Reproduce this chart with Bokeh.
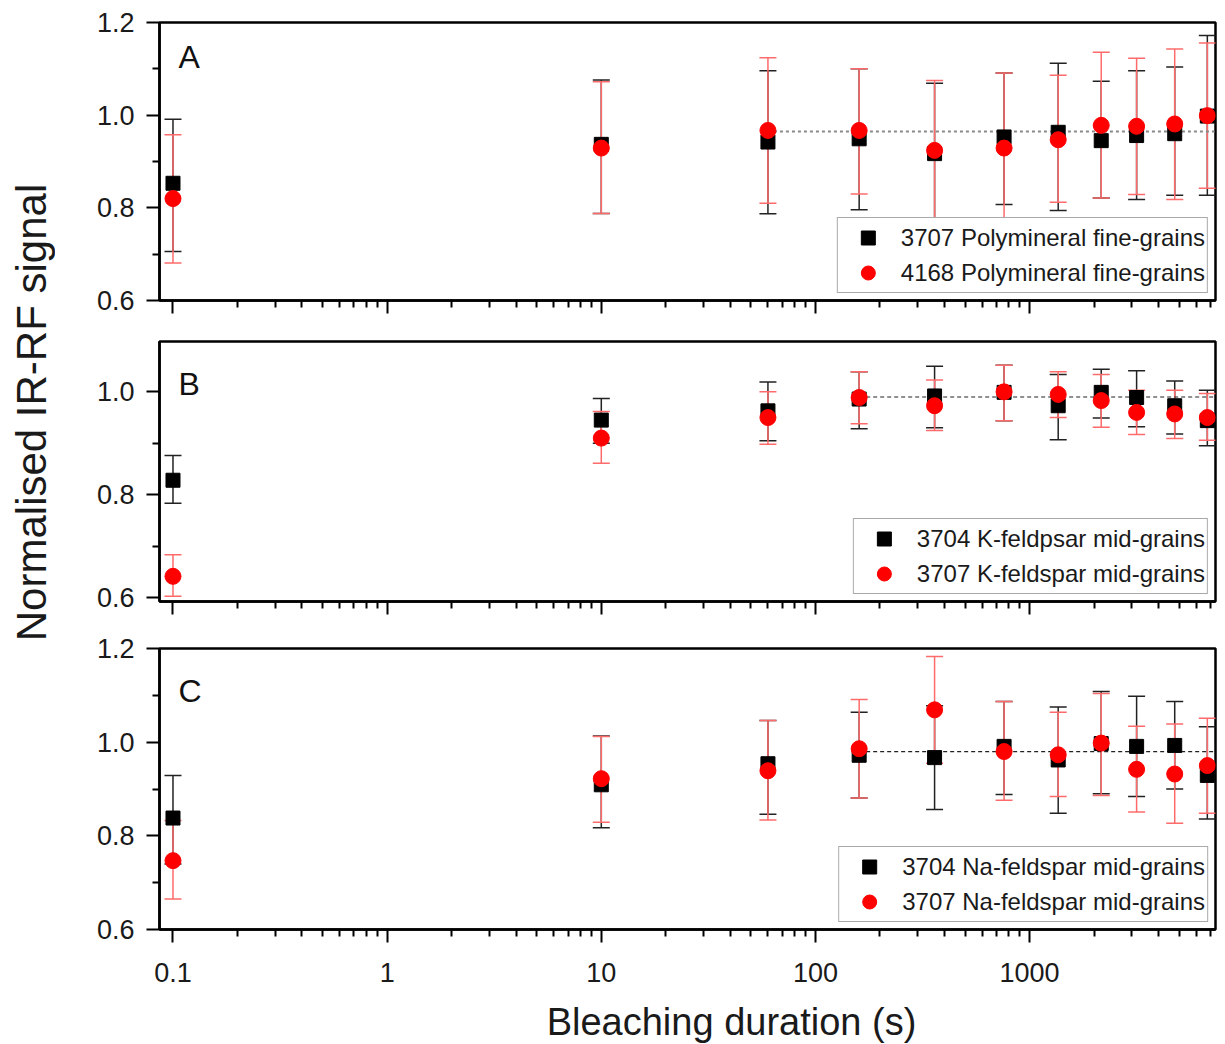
import math
from bokeh.plotting import figure
from bokeh.models import (ColumnDataSource, Whisker, TeeHead, FixedTicker, Label,
                          Legend, LegendItem, Range1d, PrintfTickFormatter,
                          CustomJSTickFormatter)
from bokeh.core.properties import value
from bokeh.layouts import row, column
from bokeh.embed import file_html
from bokeh.resources import INLINE

FONT = "Liberation Sans"

# ---------------- data ----------------
t = [0.1, 10, 60, 160, 360, 760, 1360, 2160, 3160, 4760, 6760]

# Panel A
A_blk = [0.853, 0.937, 0.942, 0.949, 0.917, 0.953, 0.963, 0.945, 0.956, 0.960, 0.998]
A_blk_hi = [0.991, 1.076, 1.096, 1.100, 1.069, 1.091, 1.112, 1.073, 1.096, 1.104, 1.172]
A_blk_lo = [0.706, 0.788, 0.787, 0.796, 0.765, 0.807, 0.794, 0.821, 0.818, 0.827, 0.827]
A_red = [0.820, 0.929, 0.967, 0.967, 0.924, 0.929, 0.947, 0.978, 0.976, 0.981, 0.999]
A_red_hi = [0.958, 1.072, 1.124, 1.100, 1.075, 1.091, 1.086, 1.136, 1.123, 1.143, 1.156]
A_red_lo = [0.681, 0.788, 0.810, 0.830, 0.773, 0.770, 0.812, 0.821, 0.829, 0.818, 0.842]
A_ref_x = [60, 7300]
A_ref_y = [0.965, 0.965]

# Panel B
B_blk = [0.828, 0.945, 0.963, 0.986, 0.992, 0.999, 0.973, 0.999, 0.989, 0.973, 0.944]
B_blk_hi = [0.876, 0.987, 1.019, 1.039, 1.050, 1.052, 1.034, 1.044, 1.041, 1.021, 1.003]
B_blk_lo = [0.783, 0.900, 0.905, 0.928, 0.930, 0.944, 0.907, 0.949, 0.932, 0.918, 0.895]
B_red = [0.641, 0.910, 0.950, 0.989, 0.973, 1.000, 0.995, 0.983, 0.960, 0.957, 0.950]
B_red_hi = [0.683, 0.962, 1.000, 1.039, 1.023, 1.052, 1.039, 1.034, 1.003, 1.003, 0.997]
B_red_lo = [0.602, 0.861, 0.898, 0.938, 0.925, 0.944, 0.950, 0.931, 0.917, 0.909, 0.906]
B_ref_x = [160, 7300]
B_ref_y = [0.990, 0.990]

# Panel C
C_blk = [0.838, 0.909, 0.954, 0.972, 0.967, 0.991, 0.962, 0.997, 0.991, 0.993, 0.929]
C_blk_hi = [0.929, 1.013, 1.046, 1.064, 1.078, 1.087, 1.075, 1.108, 1.098, 1.087, 1.033]
C_blk_lo = [0.740, 0.817, 0.846, 0.881, 0.856, 0.888, 0.848, 0.890, 0.884, 0.900, 0.836]
C_red = [0.747, 0.922, 0.939, 0.986, 1.069, 0.980, 0.973, 0.998, 0.942, 0.932, 0.950]
C_red_hi = [0.833, 1.012, 1.046, 1.091, 1.183, 1.087, 1.064, 1.104, 1.034, 1.039, 1.051]
C_red_lo = [0.665, 0.829, 0.834, 0.881, 0.955, 0.876, 0.884, 0.886, 0.851, 0.827, 0.848]
C_ref_x = [160, 7300]
C_ref_y = [0.980, 0.980]

labels_A = ["3707 Polymineral fine-grains", "4168 Polymineral fine-grains"]
labels_B = ["3704 K-feldpsar mid-grains", "3707 K-feldspar mid-grains"]
labels_C = ["3704 Na-feldspar mid-grains", "3707 Na-feldspar mid-grains"]

x_major = [0.1, 1, 10, 100, 1000]
x_minor = [m * d for d in [0.1, 1, 10, 100, 1000] for m in range(2, 10)]
x_labels = {0.1: "0.1", 1: "1", 10: "10", 100: "100", 1000: "1000"}
y_major = [0.6, 0.8, 1.0, 1.2]
y_minor = [0.7, 0.9, 1.1]

x_title = ["Bleaching duration (s)"]
y_title = "Normalised IR-RF signal"

XMIN, XMAX = 0.0865, 7380
FRAME_W = 1056
BORDER_L = 104
BORDER_R = 10
BLK_ERR = "#222222"
RED_ERR = "#ff6b6b"


def panel(letter, letter_dy, yr, frame_h, top, bottom,
          blk, blk_hi, blk_lo, red, red_hi, red_lo, labels,
          ref_x, ref_y, ref_dash, ref_color, ref_w, show_x):
    p = figure(frame_width=FRAME_W, frame_height=frame_h, x_axis_type="log",
               x_range=Range1d(XMIN, XMAX), y_range=Range1d(*yr),
               output_backend="svg", toolbar_location=None,
               min_border_left=BORDER_L, min_border_right=BORDER_R,
               min_border_top=top, min_border_bottom=bottom)
    p.xgrid.visible = False
    p.ygrid.visible = False
    p.outline_line_color = "black"
    p.outline_line_width = 2.5
    p.background_fill_color = "white"
    p.border_fill_color = "white"

    for ax in (p.xaxis[0], p.yaxis[0]):
        ax.axis_line_width = 2.5
        ax.axis_line_color = "black"
        ax.major_tick_line_width = 2
        ax.minor_tick_line_width = 2
        ax.major_tick_in = 0
        ax.major_tick_out = 13
        ax.minor_tick_in = 0
        ax.minor_tick_out = 7
        ax.major_label_text_font = FONT
        ax.major_label_text_font_size = "27px"
        ax.major_label_text_color = "#1a1a1a"

    p.xaxis.ticker = FixedTicker(ticks=x_major, minor_ticks=x_minor)
    p.yaxis.ticker = FixedTicker(ticks=y_major, minor_ticks=y_minor)
    p.yaxis.formatter = PrintfTickFormatter(format="%.1f")
    p.yaxis.major_label_standoff = 12
    if show_x:
        p.xaxis.major_label_overrides = x_labels
        p.xaxis.major_label_standoff = 20
    else:
        p.xaxis.formatter = CustomJSTickFormatter(code="return ''")
        p.xaxis.major_label_standoff = 0

    src_b = ColumnDataSource(dict(x=t, y=blk, hi=blk_hi, lo=blk_lo))
    src_r = ColumnDataSource(dict(x=t, y=red, hi=red_hi, lo=red_lo))

    p.line(ref_x, ref_y, line_color=ref_color, line_width=ref_w, line_dash=ref_dash)

    p.add_layout(Whisker(source=src_b, base="x", upper="hi", lower="lo",
                         line_color=BLK_ERR, line_width=1.5,
                         upper_head=TeeHead(size=17, line_color=BLK_ERR, line_width=1.5),
                         lower_head=TeeHead(size=17, line_color=BLK_ERR, line_width=1.5)))
    sq = p.scatter("x", "y", source=src_b, marker="square", size=14,
                   fill_color="black", line_color="black")
    p.add_layout(Whisker(source=src_r, base="x", upper="hi", lower="lo",
                         line_color=RED_ERR, line_width=1.5,
                         upper_head=TeeHead(size=17, line_color=RED_ERR, line_width=1.5),
                         lower_head=TeeHead(size=17, line_color=RED_ERR, line_width=1.5)))
    ci = p.scatter("x", "y", source=src_r, marker="circle", size=16,
                   fill_color="#ff0000", line_color="#ff0000")

    leg = Legend(items=[LegendItem(label=labels[0], renderers=[sq]),
                        LegendItem(label=labels[1], renderers=[ci])],
                 location="bottom_right")
    leg.label_text_font = FONT
    leg.label_text_font_size = "24px"
    leg.label_text_color = "#1a1a1a"
    leg.border_line_color = "#555555"
    leg.border_line_width = 1.5
    leg.padding = 2
    leg.spacing = 0
    leg.glyph_height = 35
    leg.glyph_width = 56
    leg.label_height = 35
    leg.label_standoff = 5
    leg.margin = 7
    leg.background_fill_color = "white"
    leg.background_fill_alpha = 1.0
    p.add_layout(leg)

    p.add_layout(Label(x=19, y=frame_h - letter_dy, x_units="screen", y_units="screen",
                       text=letter, text_font=FONT, text_font_size="32px",
                       text_baseline="top", text_color="#111111"))
    return p


pA = panel("A", 16, (0.6, 1.2), 278, 22, 20,
           A_blk, A_blk_hi, A_blk_lo, A_red, A_red_hi, A_red_lo, labels_A,
           A_ref_x, A_ref_y, "3 3", "#8a8a8a", 2, False)
pB = panel("B", 24, (0.592, 1.098), 260, 21, 20,
           B_blk, B_blk_hi, B_blk_lo, B_red, B_red_hi, B_red_lo, labels_B,
           B_ref_x, B_ref_y, "4 3", "#222222", 1.2, False)
pC = panel("C", 24, (0.6, 1.2), 281, 27, 66,
           C_blk, C_blk_hi, C_blk_lo, C_red, C_red_hi, C_red_lo, labels_C,
           C_ref_x, C_ref_y, "4 3", "#222222", 1.2, True)

# x-axis title strip, same horizontal geometry as the panels
XT_TOP = 648 + 281 + 66
XT_H = 1043 - XT_TOP
px = figure(frame_width=FRAME_W, frame_height=XT_H,
            x_range=Range1d(0, FRAME_W), y_range=Range1d(0, XT_H),
            output_backend="svg", toolbar_location=None,
            min_border_left=BORDER_L, min_border_right=BORDER_R,
            min_border_top=0, min_border_bottom=0, title=None)
px.axis.visible = False
px.grid.visible = False
px.outline_line_color = None
px.text(x=[731 - 159], y=[1043 - 1021], text=x_title, text_font=value(FONT),
        text_font_size="38px", text_align="center", text_baseline="middle",
        text_color="#1a1a1a")

# y-axis title strip: an empty narrow figure whose left axis carries the title
pt = figure(frame_width=1, frame_height=824, x_range=Range1d(0, 1), y_range=Range1d(0, 1),
            output_backend="svg", toolbar_location=None, title=None,
            min_border_left=54, min_border_right=0, min_border_top=0,
            min_border_bottom=1043 - 824)
pt.xaxis.visible = False
pt.grid.visible = False
pt.outline_line_color = None
ya = pt.yaxis[0]
ya.ticker = FixedTicker(ticks=[])
ya.major_tick_out = 0
ya.major_tick_in = 0
ya.minor_tick_out = 0
ya.minor_tick_in = 0
ya.axis_line_color = None
ya.axis_label = y_title
ya.axis_label_text_font = FONT
ya.axis_label_text_font_size = "42px"
ya.axis_label_text_font_style = "normal"
ya.axis_label_text_color = "#1a1a1a"
ya.axis_label_standoff = 0

layout = row(pt, column(pA, pB, pC, px))
open("out.html", "w").write(file_html(layout, INLINE))
